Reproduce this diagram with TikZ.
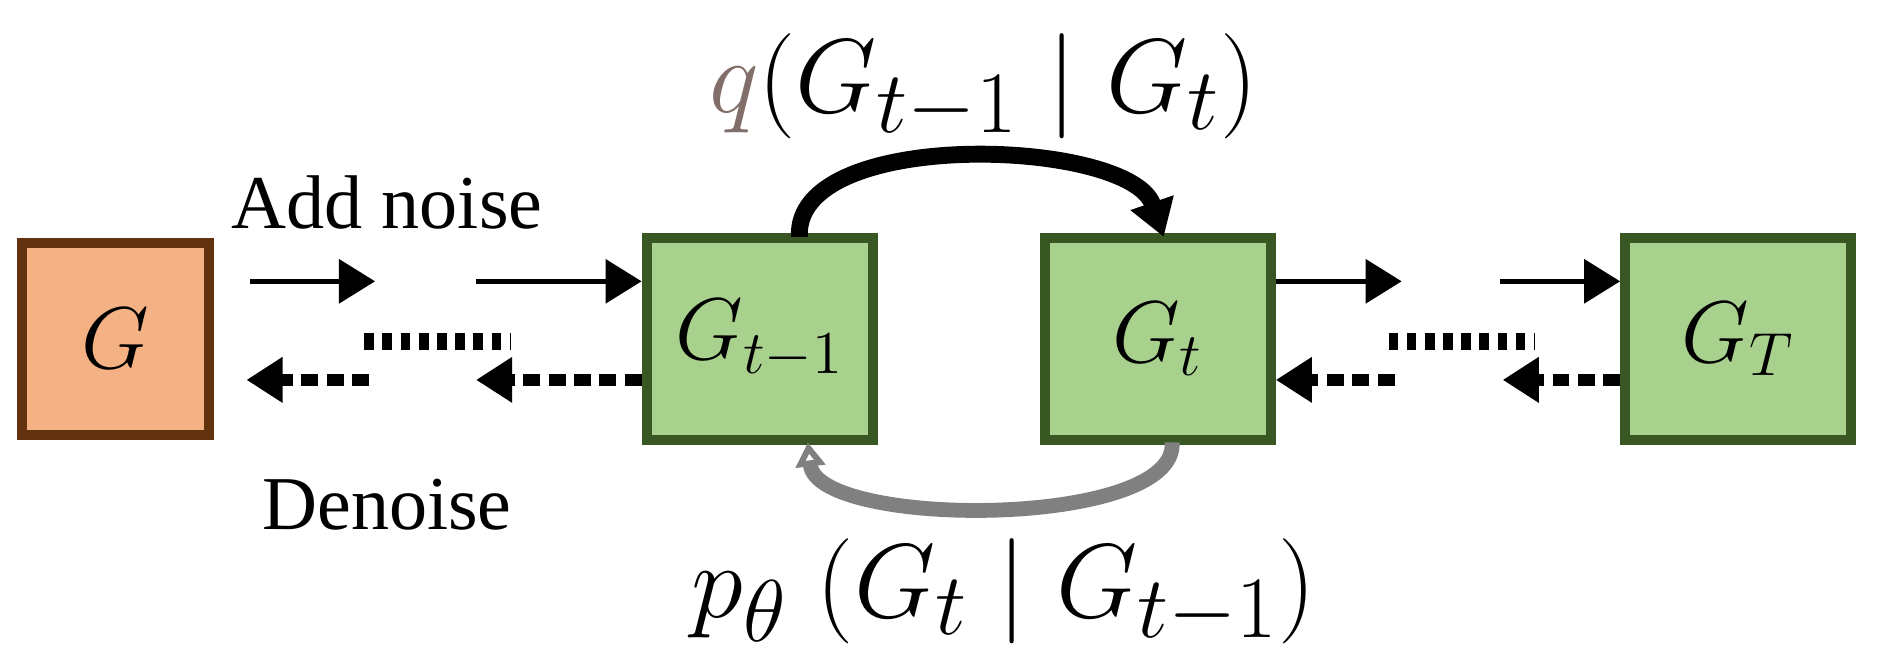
\documentclass[tikz,border=0pt]{standalone}
\usepackage{fontspec}
\setmainfont{Liberation Serif}
\usetikzlibrary{arrows.meta}
\begin{document}
\begin{tikzpicture}[x=0.01cm,y=-0.01cm,
  gbox/.style={line width=2.4pt,minimum width=1.88cm,minimum height=1.68cm,inner sep=0pt,font=\fontsize{22}{24}\selectfont},
  fwd/.style={-{Triangle[length=0.3cm,width=0.36cm]},line width=1.3pt},
  bwd/.style={-{Triangle[length=0.3cm,width=0.36cm]},line width=3pt,dash pattern=on 4pt off 2pt},
  dots/.style={line width=4pt,dash pattern=on 2.3pt off 2pt}]
\useasboundingbox (0,0) rectangle (1568,557);
\definecolor{gfill}{RGB}{169,209,142}
\definecolor{gdraw}{RGB}{56,87,35}
\node[gbox,fill={rgb,255:red,244;green,177;blue,131},draw={rgb,255:red,99;green,50;blue,15},minimum width=1.55cm,minimum height=1.6cm] (g) at (96,282) {$G$};
\node[gbox,fill=gfill,draw=gdraw] (a) at (632,282) {$G_{t-1}$};
\node[gbox,fill=gfill,draw=gdraw] (b) at (963,282) {$G_t$};
\node[gbox,fill=gfill,draw=gdraw] (c) at (1446,282) {$G_T$};
\node[font=\fontsize{18}{20}\selectfont] (add) at (322,168) {Add noise};
\node[font=\fontsize{18}{20}\selectfont] (den) at (322,420) {Denoise};
\node[font=\fontsize{31}{33}\selectfont] (q) at (818,72) {$\color[RGB]{130,110,105}q\color{black}(G_{t-1}\mid G_t)$};
\node[font=\fontsize{31}{33}\selectfont] (p) at (835,492) {$p_\theta\;(G_t\mid G_{t-1})$};
\coordinate (s1) at (208,234); \coordinate (e1) at (312,234);
\coordinate (s2) at (396,234);
\coordinate (s3) at (1166,234);
\coordinate (s4) at (1248,234);
\draw[fwd] (s1) -- (e1);
\draw[fwd] (s2) -- (a.west|-s2);
\draw[fwd] (b.east|-s2) -- (s3);
\draw[fwd] (s4) -- (c.west|-s4);
\coordinate (d1) at (303,284); \coordinate (d2) at (424,284);
\coordinate (d3) at (1155,284); \coordinate (d4) at (1276,284);
\draw[dots] (d1) -- (d2);
\draw[dots] (d3) -- (d4);
\coordinate (k1) at (307,316); \coordinate (k2) at (205,316);
\coordinate (k3) at (396,316); \coordinate (k4) at (1160,316); \coordinate (k5) at (1250,316);
\draw[bwd] (k1) -- (k2);
\draw[bwd] (a.west|-k3) -- (k3);
\draw[bwd] (k4) -- (b.east|-k4);
\draw[bwd] (c.west|-k5) -- (k5);
\coordinate (ta) at (665,197); \coordinate (tb) at (968,197);
\coordinate (ba) at (672,368); \coordinate (bb) at (975,368);
\draw[line width=4pt,-{Triangle[length=0.3cm,width=0.36cm]}] (ta) .. controls (660,105) and (940,115) .. (tb);
\draw[line width=3.5pt,gray,-{Triangle[length=0.2cm,width=0.24cm,open,fill=white]}] (bb) .. controls (980,440) and (680,440) .. (ba);
\end{tikzpicture}
\end{document}
